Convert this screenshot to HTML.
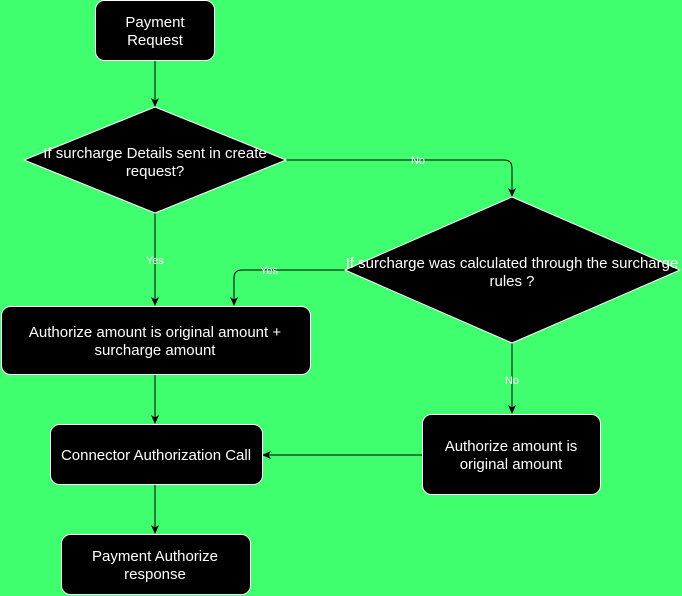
<!DOCTYPE html>
<html><head><meta charset="utf-8"><style>
html,body{margin:0;padding:0;background:#3fff6e;}
svg{display:block;font-family:"Liberation Sans",sans-serif;}
.b{fill:#000;stroke:#fff;stroke-width:1;}
.t{fill:#fff;font-size:15px;text-anchor:middle;}
.l{fill:#fff;font-size:11px;text-anchor:middle;}
.e{stroke:#000;stroke-width:1;fill:none;}
</style></head><body>
<svg width="682" height="596" viewBox="0 0 682 596">
<defs><marker id="a" markerWidth="10" markerHeight="10" refX="8" refY="5" orient="auto" markerUnits="userSpaceOnUse"><path d="M0,1 L9,5 L0,9 L2.5,5 Z" fill="#000"/></marker></defs>
<rect width="682" height="596" fill="#3fff6e"/>
<path class="e" d="M155,60 V106" marker-end="url(#a)"/>
<path class="e" d="M155,213 V305" marker-end="url(#a)"/>
<path class="e" d="M286,160 H504 Q512,160 512,168 V196" marker-end="url(#a)"/>
<path class="e" d="M345,270 H242 Q234,270 234,278 V305" marker-end="url(#a)"/>
<path class="e" d="M512,343 V413" marker-end="url(#a)"/>
<path class="e" d="M155,374 V423" marker-end="url(#a)"/>
<path class="e" d="M422,455 H263" marker-end="url(#a)"/>
<path class="e" d="M155,484 V533" marker-end="url(#a)"/>
<rect class="b" x="95.5" y="0.5" width="119" height="60" rx="9"/>
<path class="b" d="M155,107 L286,160 L155,213 L24,160 Z" stroke-linejoin="round"/>
<path class="b" d="M512,197 L680,270 L512,343 L345,270 Z" stroke-linejoin="round"/>
<rect class="b" x="1.5" y="306.5" width="309" height="68" rx="9"/>
<rect class="b" x="50.5" y="424.5" width="212" height="60" rx="9"/>
<rect class="b" x="422.5" y="414.5" width="178" height="80" rx="9"/>
<rect class="b" x="61.5" y="534.5" width="189" height="60" rx="9"/>
<text class="l" x="418" y="164">No</text>
<text class="l" x="155" y="264">Yes</text>
<text class="l" x="269" y="274">Yes</text>
<text class="l" x="512" y="384">No</text>
<text class="t" x="155" y="27">Payment</text>
<text class="t" x="155" y="45">Request</text>
<text class="t" x="155" y="158">If surcharge Details sent in create</text>
<text class="t" x="155" y="176">request?</text>
<text class="t" x="512" y="268">If surcharge was calculated through the surcharge</text>
<text class="t" x="512" y="286">rules ?</text>
<text class="t" x="155" y="337">Authorize amount is original amount +</text>
<text class="t" x="155" y="355">surcharge amount</text>
<text class="t" x="156" y="460">Connector Authorization Call</text>
<text class="t" x="511" y="451">Authorize amount is</text>
<text class="t" x="511" y="469">original amount</text>
<text class="t" x="155" y="561">Payment Authorize</text>
<text class="t" x="155" y="579">response</text>
</svg>
</body></html>
